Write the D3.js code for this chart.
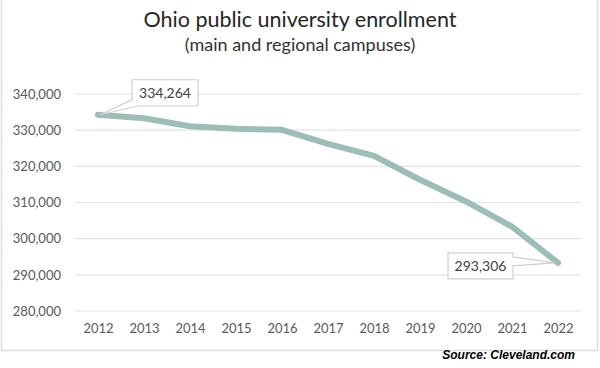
<!DOCTYPE html>
<html>
<head>
<meta charset="utf-8">
<script src="https://cdn.jsdelivr.net/npm/d3@7"></script>
<style>
  html, body { margin: 0; padding: 0; background: #fff; }
  svg { display: block; }
</style>
</head>
<body>
<svg id="chart" width="600" height="368"></svg>
<script>
const years = ["2012","2013","2014","2015","2016","2017","2018","2019","2020","2021","2022"];
const enrollment = [334264, 333300, 331100, 330400, 330100, 326200, 322900, 316300, 310300, 303300, 293306];
const yTicks = [280000, 290000, 300000, 310000, 320000, 330000, 340000];
const titleText = "Ohio public university enrollment";
const subtitleText = "(main and regional campuses)";
const sourceText = "Source: Cleveland.com";

const svg = d3.select("#chart");

// frame
svg.append("rect").attr("x", 1.5).attr("y", -2).attr("width", 596).attr("height", 352.5)
  .attr("fill", "#fff").attr("stroke", "#dcdcdc").attr("stroke-width", 1.5);

const x = d3.scalePoint().domain(years).range([98, 558]);
const y = d3.scaleLinear().domain([280000, 340000]).range([311, 94]);

// gridlines
svg.append("g").selectAll("line").data(yTicks).join("line")
  .attr("x1", 75).attr("x2", 581)
  .attr("y1", d => y(d)).attr("y2", d => y(d))
  .attr("stroke", "#e3e3e3").attr("stroke-width", 1.2);

// y axis labels
const yAxis = d3.axisLeft(y).tickValues(yTicks).tickFormat(d3.format(",")).tickSize(0).tickPadding(0);
const gy = svg.append("g").attr("transform", "translate(61,0)").call(yAxis);
gy.select(".domain").remove();
gy.selectAll("text").attr("font-family", "Lato, 'Open Sans', sans-serif").attr("font-size", 13)
  .attr("fill", "#595959");

// x axis labels
const xAxis = d3.axisBottom(x).tickSize(0).tickPadding(0);
const gx = svg.append("g").attr("transform", "translate(0,324)").call(xAxis);
gx.select(".domain").remove();
gx.selectAll("text").attr("font-family", "Lato, 'Open Sans', sans-serif").attr("font-size", 13)
  .attr("fill", "#595959");

// line
const data = years.map((yr, i) => ({ yr, v: enrollment[i] }));
svg.append("path").datum(data)
  .attr("d", d3.line().x(d => x(d.yr)).y(d => y(d.v)))
  .attr("fill", "none").attr("stroke", "#9dbdb8").attr("stroke-width", 6)
  .attr("stroke-linejoin", "round").attr("stroke-linecap", "round");

// callouts
const fmt = d3.format(",");
const first = data[0], last = data[data.length - 1];
{
  const px = x(first.yr), py = y(first.v);
  const L = px + 34, T = py - 35, R = L + 66, B = T + 26;
  svg.append("path")
    .attr("d", `M${L},${T} H${R} V${B} H${L + 7} L${px + 2},${py} L${L},${B - 6} Z`)
    .attr("fill", "#fff").attr("stroke", "#cfcfcf").attr("stroke-width", 1.2);
  svg.append("text").attr("x", (L + R) / 2).attr("y", T + 18).attr("text-anchor", "middle")
    .attr("font-family", "Lato, 'Open Sans', sans-serif").attr("font-size", 14).attr("fill", "#404040")
    .text(fmt(first.v));
}
{
  const px = x(last.yr), py = y(last.v);
  const R = px - 45, L = R - 65, T = py - 10, B = T + 26;
  svg.append("path")
    .attr("d", `M${L},${T} H${R} V${T + 4} L${px - 3},${py} L${R},${T + 13} V${B} H${L} Z`)
    .attr("fill", "#fff").attr("stroke", "#cfcfcf").attr("stroke-width", 1.2);
  svg.append("text").attr("x", (L + R) / 2).attr("y", T + 18).attr("text-anchor", "middle")
    .attr("font-family", "Lato, 'Open Sans', sans-serif").attr("font-size", 14).attr("fill", "#404040")
    .text(fmt(last.v));
}

// titles
svg.append("text").attr("x", 300).attr("y", 27).attr("text-anchor", "middle")
  .attr("font-family", "Lato, 'Open Sans', sans-serif").attr("font-size", 21.5).attr("fill", "#262626")
  .text(titleText);
svg.append("text").attr("x", 300).attr("y", 51).attr("text-anchor", "middle")
  .attr("font-family", "Lato, 'Open Sans', sans-serif").attr("font-size", 18).attr("fill", "#333333")
  .text(subtitleText);

// source
svg.append("text").attr("x", 575).attr("y", 359).attr("text-anchor", "end")
  .attr("font-family", "'Liberation Sans', Arial, sans-serif").attr("font-size", 12)
  .attr("font-weight", "bold").attr("font-style", "italic").attr("fill", "#000")
  .text(sourceText);
</script>
</body>
</html>
